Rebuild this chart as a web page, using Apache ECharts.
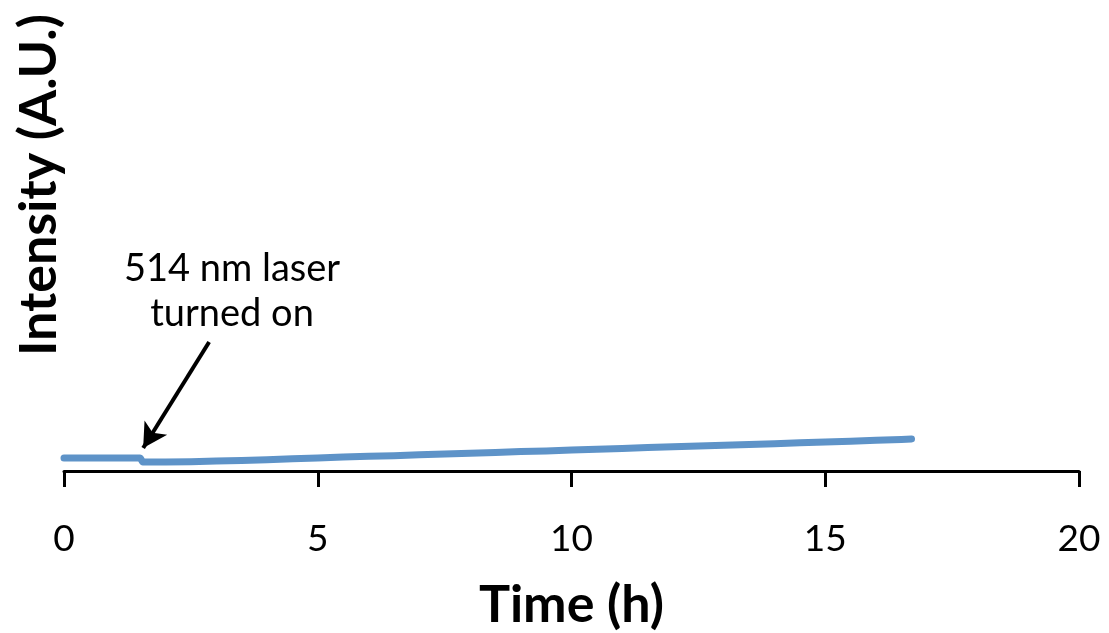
<!DOCTYPE html>
<html>
<head>
<meta charset="utf-8">
<script src="https://cdn.jsdelivr.net/npm/echarts@6/dist/echarts.min.js"></script>
<style>
  html, body { margin: 0; padding: 0; background: #fff; }
  #chart { width: 1109px; height: 633px; }
</style>
</head>
<body>
<div id="chart"></div>
<script>
// Time in hours and measured intensity (arbitrary units)
const timeH = [0, 0.5, 1.0, 1.5, 1.55, 2.0, 2.5, 3.0, 3.5, 4.0, 4.5, 5.0, 5.5, 6.0, 6.5, 7.0, 7.5, 8.0,
  8.5, 9.0, 9.5, 10.0, 10.5, 11.0, 11.5, 12.0, 12.5, 13.0, 13.5, 14.0, 14.5, 15.0, 15.5, 16.0, 16.5, 16.7];
const intensity = [2.9, 2.9, 2.9, 2.9, 2.0, 2.0, 2.05, 2.2, 2.35, 2.5, 2.7, 2.9, 3.1, 3.25, 3.4, 3.6, 3.75, 3.95,
  4.1, 4.3, 4.45, 4.65, 4.8, 5.0, 5.2, 5.35, 5.55, 5.7, 5.9, 6.05, 6.25, 6.45, 6.6, 6.8, 7.0, 7.1];
const xTicks = [0, 5, 10, 15, 20];

// Annotation arrow: from label towards the moment the laser was switched on
const arrowFrom = [2.86, 28.6];
const arrowTo = [1.56, 5.1];
const noteLines = ['514 nm laser', 'turned on'];

const FONT = 'Lato, "Open Sans", sans-serif';

const chart = echarts.init(document.getElementById('chart'), null, { renderer: 'canvas' });

chart.setOption({
  animation: false,
  backgroundColor: '#ffffff',
  grid: { left: 64, right: 30, top: 20, bottom: 162, containLabel: false, outerBoundsMode: 'none' },
  xAxis: {
    type: 'value',
    min: xTicks[0],
    max: xTicks[xTicks.length - 1],
    interval: 5,
    name: 'Time (h)',
    nameLocation: 'middle',
    nameGap: 108,
    nameTextStyle: { fontFamily: FONT, fontSize: 52, fontWeight: 'bold', color: '#000' },
    axisLine: { onZero: false, lineStyle: { color: '#000', width: 3 } },
    axisTick: { show: true, inside: false, length: 16, lineStyle: { color: '#000', width: 3 } },
    axisLabel: { fontFamily: FONT, fontSize: 37, color: '#000', margin: 50 },
    splitLine: { show: false }
  },
  yAxis: {
    type: 'value',
    min: 0,
    max: 100,
    axisLine: { show: false },
    axisTick: { show: false },
    axisLabel: { show: false },
    splitLine: { show: false }
  },
  graphic: [
    {
      type: 'text',
      x: 39, y: 185,
      rotation: Math.PI / 2,
      style: {
        text: 'Intensity (A.U.)',
        font: 'bold 52px ' + FONT,
        fill: '#000',
        align: 'center',
        verticalAlign: 'middle'
      }
    },
    {
      type: 'text',
      x: 232, y: 291,
      style: {
        text: noteLines.join('\n'),
        font: '38px ' + FONT,
        lineHeight: 45,
        fill: '#000',
        align: 'center',
        verticalAlign: 'middle'
      }
    }
  ],
  series: [
    {
      type: 'line',
      data: timeH.map((t, i) => [t, intensity[i]]),
      showSymbol: false,
      lineStyle: { color: '#5E93C8', width: 7, cap: 'round', join: 'round' },
      silent: true,
      markLine: {
        silent: true,
        symbol: ['none', 'arrow'],
        symbolSize: [20, 24],
        label: { show: false },
        lineStyle: { color: '#000', width: 4, type: 'solid' },
        data: [[{ coord: arrowFrom }, { coord: arrowTo }]]
      }
    }
  ]
});
</script>
</body>
</html>
